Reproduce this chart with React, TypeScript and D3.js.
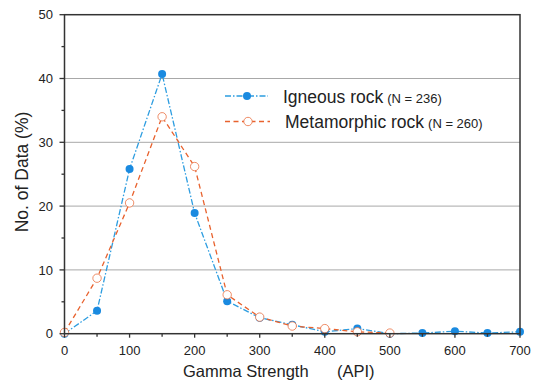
import React from "react";
import * as d3 from "d3";

const xValues = [0, 50, 100, 150, 200, 250, 300, 350, 400, 450, 500, 550, 600, 650, 700];
const igneous = [0, 3.6, 25.8, 40.7, 18.9, 5.1, 2.5, 1.4, 0.3, 0.8, 0, 0.1, 0.4, 0.1, 0.3];
const metaX = [0, 50, 100, 150, 200, 250, 300, 350, 400, 450, 500];
const metamorphic = [0.2, 8.7, 20.5, 34.0, 26.2, 6.1, 2.6, 1.2, 0.8, 0.3, 0.1];
const xTicks = [0, 100, 200, 300, 400, 500, 600, 700];
const yTicks = [0, 10, 20, 30, 40, 50];
const gridY = [10, 20, 30, 40];

const W = 538, H = 384;
const L = 64.5, R = 520, T = 14.7, B = 333.7;
const FONT = "Liberation Sans, Arial, sans-serif";

export default function App() {
  const x = d3.scaleLinear().domain([0, 700]).range([L, R]);
  const y = d3.scaleLinear().domain([0, 50]).range([B, T]);
  const line = d3.line<[number, number]>().x(d => x(d[0])).y(d => y(d[1]));
  const igPts: [number, number][] = xValues.map((v, i) => [v, igneous[i]]);
  const mePts: [number, number][] = metaX.map((v, i) => [v, metamorphic[i]]);
  const minorX = d3.range(50, 700, 100);
  const minorY = d3.range(5, 50, 10);
  const blue = "#1a8ae0";
  const blueLine = "#2d9de0";
  const orange = "#e8622e";
  return (
    <svg width={W} height={H} style={{ position: "absolute", left: 0, top: 0 }}>
      <rect width={W} height={H} fill="#fff" />
      {gridY.map(v => (
        <line key={v} x1={L} x2={R} y1={y(v)} y2={y(v)} stroke="#a8a8a8" strokeWidth={1} />
      ))}
      <path d={line(igPts) || ""} fill="none" stroke={blueLine} strokeWidth={1.3} strokeDasharray="6,2,1.5,2" />
      <path d={line(mePts) || ""} fill="none" stroke={orange} strokeWidth={1.3} strokeDasharray="5,3.5" />
      {igPts.map((p, i) => (
        <circle key={i} cx={x(p[0])} cy={y(p[1])} r={4} fill={blue} />
      ))}
      {mePts.map((p, i) => (
        <circle key={i} cx={x(p[0])} cy={y(p[1])} r={4.2} fill="#fff" stroke={orange} strokeWidth={0.9} strokeOpacity={0.8} />
      ))}
      <rect x={L} y={T} width={R - L} height={B - T} fill="none" stroke="#333" strokeWidth={1.5} />
      {xTicks.map(v => (
        <g key={v}>
          <line x1={x(v)} x2={x(v)} y1={B} y2={B + 4} stroke="#333" strokeWidth={1.3} />
          <text x={x(v)} y={355} textAnchor="middle" fontFamily={FONT} fontSize={13} fill="#222">{v}</text>
        </g>
      ))}
      {minorX.map(v => (
        <line key={v} x1={x(v)} x2={x(v)} y1={B} y2={B + 3} stroke="#333" strokeWidth={1.3} />
      ))}
      {yTicks.map(v => (
        <g key={v}>
          <line x1={L - 5} x2={L} y1={y(v)} y2={y(v)} stroke="#333" strokeWidth={1.3} />
          <text x={53} y={y(v) + 4.6} textAnchor="end" fontFamily={FONT} fontSize={13} fill="#222">{v}</text>
        </g>
      ))}
      {minorY.map(v => (
        <line key={v} x1={L - 3} x2={L} y1={y(v)} y2={y(v)} stroke="#333" strokeWidth={1.3} />
      ))}
      <text transform={`translate(28,172) rotate(-90)`} textAnchor="middle" fontFamily={FONT} fontSize={17.5} fill="#222">No. of Data (%)</text>
      <text x={183} y={377} fontFamily={FONT} fontSize={16.5} fill="#222">Gamma Strength</text>
      <text x={337} y={377} fontFamily={FONT} fontSize={16.5} fill="#222">(API)</text>
      <line x1={225} x2={268} y1={96} y2={96} stroke={blueLine} strokeWidth={1.3} strokeDasharray="6,2,1.5,2" />
      <circle cx={247} cy={96} r={4} fill={blue} />
      <text x={283} y={102.5} fontFamily={FONT} fontSize={17.5} fill="#222">Igneous rock<tspan fontSize={13} dx={4}>(N = 236)</tspan></text>
      <line x1={225} x2={270} y1={121.5} y2={121.5} stroke={orange} strokeWidth={1.3} strokeDasharray="5,3.5" />
      <circle cx={248} cy={121.5} r={4.2} fill="#fff" stroke={orange} strokeWidth={0.9} strokeOpacity={0.8} />
      <text x={285} y={128} fontFamily={FONT} fontSize={17.5} fill="#222">Metamorphic rock<tspan fontSize={13} dx={4}>(N = 260)</tspan></text>
    </svg>
  );
}
